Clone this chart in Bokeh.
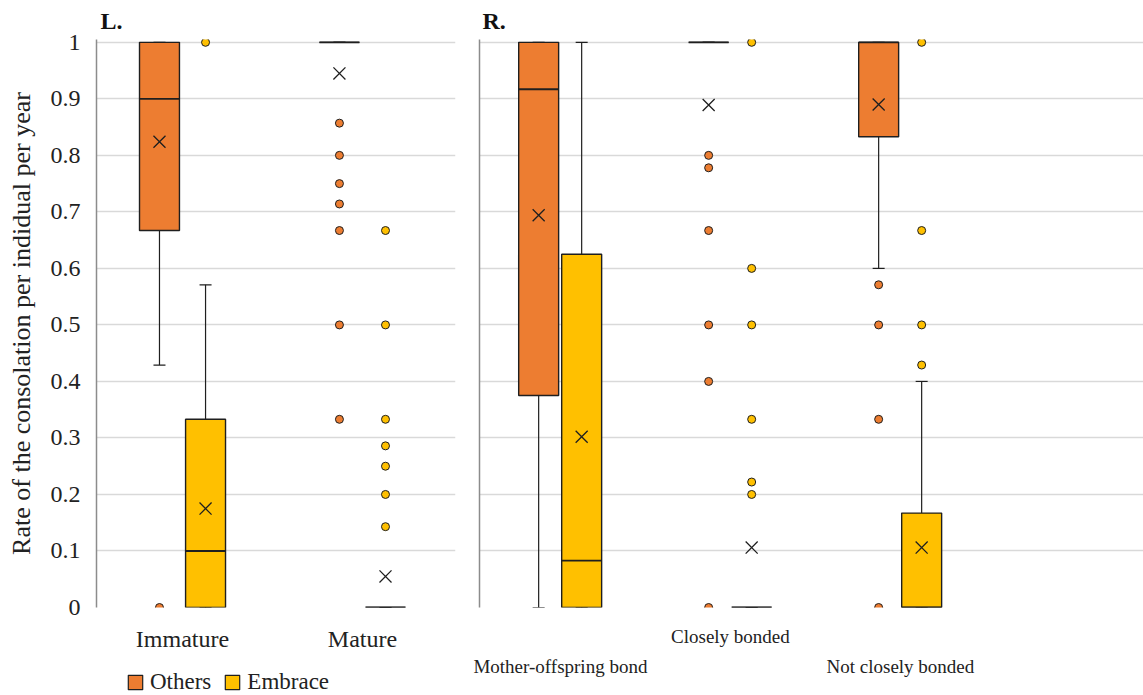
from bokeh.plotting import figure
from bokeh.layouts import row, column
from bokeh.models import (ColumnDataSource, Whisker, TeeHead, FixedTicker, LinearAxis,
                          Range1d, Legend, LegendItem)
from bokeh.transform import dodge
from bokeh.embed import file_html
from bokeh.resources import INLINE

# ---------------- data ----------------
SERIES = ["Others", "Embrace"]

Y_TICKS = [0, 0.1, 0.2, 0.3, 0.4, 0.5, 0.6, 0.7, 0.8, 0.9, 1]
Y_TICK_LABELS = ["0", "0.1", "0.2", "0.3", "0.4", "0.5", "0.6", "0.7", "0.8", "0.9", "1"]
Y_LABEL = "Rate of the consolation per indidual per year"

# Left panel (L.)
L_CATS = ["Immature", "Mature"]
L_OTHERS_Q1 = [0.667, 1.0]
L_OTHERS_MED = [0.9, 1.0]
L_OTHERS_Q3 = [1.0, 1.0]
L_OTHERS_LO = [0.429, 1.0]
L_OTHERS_HI = [1.0, 1.0]
L_OTHERS_MEAN = [0.824, 0.945]
L_OTHERS_OUT = [[0.0], [0.857, 0.8, 0.75, 0.714, 0.667, 0.5, 0.333]]

L_EMB_Q1 = [0.0, 0.0]
L_EMB_MED = [0.1, 0.0]
L_EMB_Q3 = [0.333, 0.0]
L_EMB_LO = [0.0, 0.0]
L_EMB_HI = [0.571, 0.0]
L_EMB_MEAN = [0.175, 0.055]
L_EMB_OUT = [[1.0], [0.667, 0.5, 0.333, 0.286, 0.25, 0.2, 0.143]]

# Right panel (R.)
R_CATS = ["Mother-offspring bond", "Closely bonded", "Not closely bonded"]
R_OTHERS_Q1 = [0.375, 1.0, 0.833]
R_OTHERS_MED = [0.917, 1.0, 1.0]
R_OTHERS_Q3 = [1.0, 1.0, 1.0]
R_OTHERS_LO = [0.0, 1.0, 0.6]
R_OTHERS_HI = [1.0, 1.0, 1.0]
R_OTHERS_MEAN = [0.694, 0.889, 0.890]
R_OTHERS_OUT = [[], [0.8, 0.778, 0.667, 0.5, 0.4, 0.0], [0.571, 0.5, 0.333, 0.0]]

R_EMB_Q1 = [0.0, 0.0, 0.0]
R_EMB_MED = [0.083, 0.0, 0.0]
R_EMB_Q3 = [0.625, 0.0, 0.167]
R_EMB_LO = [0.0, 0.0, 0.0]
R_EMB_HI = [1.0, 0.0, 0.4]
R_EMB_MEAN = [0.302, 0.106, 0.106]
R_EMB_OUT = [[], [1.0, 0.6, 0.5, 0.333, 0.222, 0.2], [1.0, 0.667, 0.5, 0.429]]

# ---------------- style ----------------
COLORS = ["#ED7D31", "#FFC000"]
INK = "#1f1f1f"
FONT = "Liberation Serif"
GRID = "#D9D9D9"
AXIS = "#8C8C8C"
TOP = 39
LEGEND_H = 41


def stats(q1, med, q3, lo, hi, mean, out):
    return dict(q1=q1, med=med, q3=q3, lo=lo, hi=hi, mean=mean, out=out)


def make_panel(title, cats, series_stats, width, height, bl, br, bb, xr, offset, box_w,
               y_labels, label_size, title_offset):
    p = figure(width=width, height=height, x_range=Range1d(*xr), y_range=Range1d(0, 1.005),
               output_backend="svg", toolbar_location=None, title=title,
               min_border_left=bl, min_border_right=br, min_border_top=TOP,
               min_border_bottom=bb)
    p.outline_line_color = None
    p.background_fill_color = "white"
    p.border_fill_color = "white"
    p.title.text_font = FONT
    p.title.text_font_style = "bold"
    p.title.text_font_size = "24px"
    p.title.text_color = "#111111"
    p.title.offset = title_offset
    p.title.standoff = 11

    # y axis
    yax = p.yaxis[0]
    yax.ticker = FixedTicker(ticks=Y_TICKS)
    yax.major_tick_in = 0
    yax.major_tick_out = 0
    yax.minor_tick_line_color = None
    yax.axis_line_color = AXIS
    yax.axis_line_width = 1.5
    yax.major_label_text_font = FONT
    yax.major_label_text_color = "#222222"
    if y_labels:
        yax.major_label_overrides = dict(zip(Y_TICKS, Y_TICK_LABELS))
        yax.major_label_text_font_size = "24px"
        yax.major_label_standoff = 16
        yax.axis_label = Y_LABEL
        yax.axis_label_text_font = FONT
        yax.axis_label_text_font_style = "normal"
        yax.axis_label_text_font_size = "26px"
        yax.axis_label_text_color = "#222222"
        yax.axis_label_standoff = 12
    else:
        yax.major_label_overrides = {t: "" for t in Y_TICKS}
        yax.major_label_standoff = 0

    p.ygrid.grid_line_color = GRID
    p.ygrid.grid_line_width = 1.5
    p.xgrid.visible = False

    # x axes: odd-index labels on upper row when staggered
    idx = list(range(len(cats)))
    staggered = len(cats) > 2
    upper = [i for i in idx if (i % 2 == 1 or not staggered)]
    lower = [i for i in idx if (i % 2 == 0 and staggered)]
    axes = [p.xaxis[0]]
    if lower:
        ax2 = LinearAxis()
        p.add_layout(ax2, "below")
        axes.append(ax2)
    for ax, ticks, sto in zip(axes, [upper, lower], [18, 6]):
        ax.ticker = FixedTicker(ticks=ticks)
        ax.major_label_overrides = {i: cats[i] for i in ticks}
        ax.axis_line_color = None
        ax.major_tick_line_color = None
        ax.minor_tick_line_color = None
        ax.major_tick_out = 0
        ax.major_tick_in = 0
        ax.major_label_text_font = FONT
        ax.major_label_text_font_size = label_size
        ax.major_label_text_color = "#222222"
        ax.major_label_standoff = sto

    for s_i, st in enumerate(series_stats):
        off = offset[s_i]
        xs = [i + off for i in idx]
        src = ColumnDataSource(dict(x=xs, q1=st["q1"], q3=st["q3"], med=st["med"],
                                    lo=st["lo"], hi=st["hi"], mean=st["mean"]))
        wk = Whisker(source=src, base="x", lower="lo", upper="hi", dimension="height",
                     line_color=INK, line_width=1.2,
                     lower_head=TeeHead(size=12, line_color=INK, line_width=1.2),
                     upper_head=TeeHead(size=12, line_color=INK, line_width=1.2))
        p.add_layout(wk)
        p.vbar(x="x", width=box_w, top="q3", bottom="q1", source=src,
               fill_color=COLORS[s_i], line_color=INK, line_width=1.4)
        p.segment(x0=dodge("x", -box_w / 2), x1=dodge("x", box_w / 2), y0="med", y1="med",
                  source=src, line_color=INK, line_width=1.8)
        p.scatter(x="x", y="mean", marker="x", size=17, line_color=INK, line_width=1.3,
                  source=src)
        ox = [xs[i] for i in idx for _ in st["out"][i]]
        oy = [v for i in idx for v in st["out"][i]]
        p.scatter(ox, oy, marker="circle", size=8, fill_color=COLORS[s_i],
                  line_color=INK, line_width=1)
    return p


left_stats = [
    stats(L_OTHERS_Q1, L_OTHERS_MED, L_OTHERS_Q3, L_OTHERS_LO, L_OTHERS_HI, L_OTHERS_MEAN, L_OTHERS_OUT),
    stats(L_EMB_Q1, L_EMB_MED, L_EMB_Q3, L_EMB_LO, L_EMB_HI, L_EMB_MEAN, L_EMB_OUT),
]
right_stats = [
    stats(R_OTHERS_Q1, R_OTHERS_MED, R_OTHERS_Q3, R_OTHERS_LO, R_OTHERS_HI, R_OTHERS_MEAN, R_OTHERS_OUT),
    stats(R_EMB_Q1, R_EMB_MED, R_EMB_Q3, R_EMB_LO, R_EMB_HI, R_EMB_MEAN, R_EMB_OUT),
]

pl = make_panel("L.", L_CATS, left_stats, 467, 695 - LEGEND_H, 96, 12, 47, (-0.478, 1.517),
                (-0.128, 0.128), 0.222, True, "24px", 4)
pr = make_panel("R.", R_CATS, right_stats, 676, 695, 12, 0, 88, (-0.476, 3.43),
                (-0.128, 0.125), 0.235, False, "19px", 3)

# legend strip below the left panel: the key boxes reuse the left-panel box data,
# drawn outside this strip's visible y range so only the legend keys show
pleg = figure(width=467, height=LEGEND_H, x_range=Range1d(-0.478, 1.517), y_range=Range1d(2, 3),
              output_backend="svg", toolbar_location=None, x_axis_type=None, y_axis_type=None,
              min_border=0)
pleg.outline_line_color = None
pleg.xgrid.visible = False
pleg.ygrid.visible = False
leg_renderers = []
for i, st in enumerate(left_stats):
    r = pleg.vbar(x=list(range(len(L_CATS))), top=st["q3"], bottom=st["q1"], width=0.222,
                  fill_color=COLORS[i], line_color=INK, line_width=1.2)
    leg_renderers.append(r)
legend = Legend(items=[LegendItem(label=SERIES[i], renderers=[leg_renderers[i]])
                       for i in range(len(SERIES))],
                orientation="horizontal", location=(30, 0), glyph_width=18, glyph_height=18,
                label_text_font=FONT, label_text_font_size="23px", label_text_color="#222222",
                label_standoff=6, spacing=12, padding=1, margin=0,
                border_line_color=None, background_fill_alpha=0)
pleg.add_layout(legend)

layout = row(column(pl, pleg, spacing=0), pr, spacing=0)
open("out.html", "w").write(file_html(layout, INLINE))
